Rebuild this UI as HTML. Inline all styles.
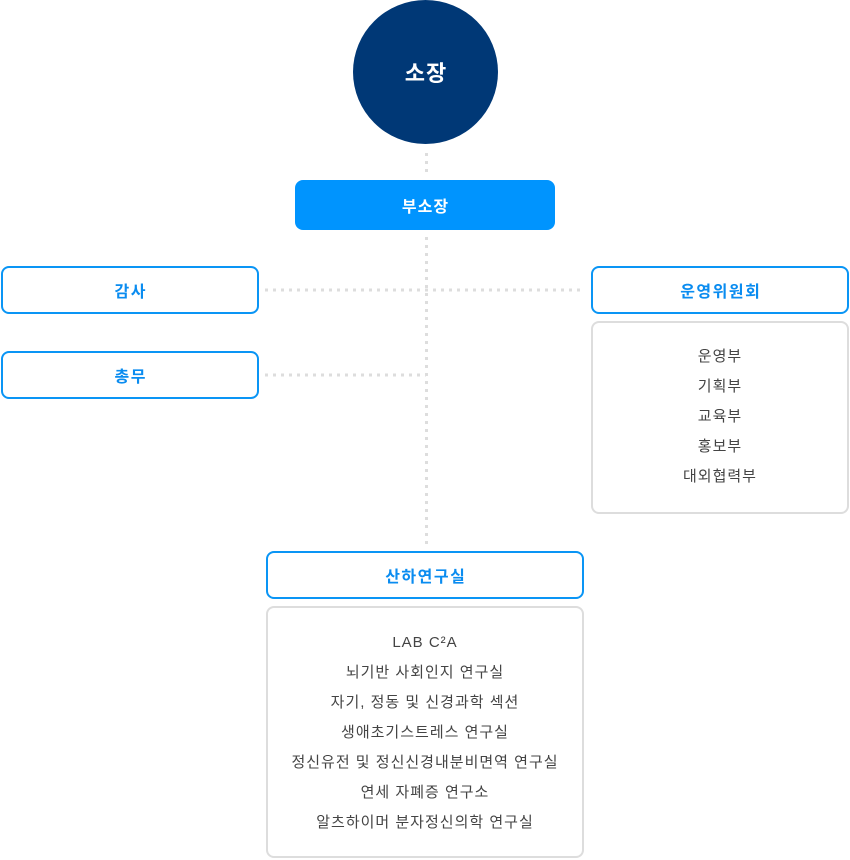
<!DOCTYPE html>
<html><head><meta charset="utf-8"><style>
*{margin:0;padding:0;box-sizing:border-box}
body{width:850px;height:860px;background:#fff;position:relative;overflow:hidden;font-family:"Liberation Sans","Noto Sans CJK KR","NanumGothic",sans-serif}
.a{position:absolute}
.t{border:2px solid #0a95f5;border-radius:8px;color:#0a8cf0;font-size:16px;font-weight:bold;letter-spacing:1.5px;text-indent:1.5px;display:flex;align-items:center;justify-content:center;background:#fff}
.l{border:2px solid #ddd;border-radius:8px;color:#444;font-size:15px;letter-spacing:1px;text-align:center;line-height:30px;background:#fff}
</style></head><body>
<svg class="a" style="left:0;top:0" width="850" height="860">
<g stroke="#ddd" stroke-width="3" stroke-dasharray="3 5">
<line x1="426.5" y1="153" x2="426.5" y2="175"/>
<line x1="426.5" y1="237" x2="426.5" y2="548"/>
<line x1="265" y1="290" x2="582" y2="290"/>
<line x1="265" y1="375" x2="426" y2="375"/>
</g>
</svg>
<div class="a" style="left:353px;top:0;width:145px;height:144px;border-radius:50%;background:#003876;color:#fff;font-size:22px;font-weight:bold;letter-spacing:1px;text-indent:1px;display:flex;align-items:center;justify-content:center">소장</div>
<div class="a" style="left:295px;top:180px;width:260px;height:50px;border-radius:8px;background:#0094fe;color:#fff;font-size:16px;font-weight:bold;letter-spacing:1px;text-indent:1px;display:flex;align-items:center;justify-content:center">부소장</div>
<div class="a t" style="left:1px;top:266px;width:258px;height:48px">감사</div>
<div class="a t" style="left:1px;top:351px;width:258px;height:48px">총무</div>
<div class="a t" style="left:591px;top:266px;width:258px;height:48px">운영위원회</div>
<div class="a l" style="left:591px;top:321px;width:258px;height:193px;padding-top:19px">운영부<br>기획부<br>교육부<br>홍보부<br>대외협력부</div>
<div class="a t" style="left:266px;top:551px;width:318px;height:48px">산하연구실</div>
<div class="a l" style="left:266px;top:606px;width:318px;height:252px;padding-top:20px">LAB C²A<br>뇌기반 사회인지 연구실<br>자기, 정동 및 신경과학 섹션<br>생애초기스트레스 연구실<br>정신유전 및 정신신경내분비면역 연구실<br>연세 자폐증 연구소<br>알츠하이머 분자정신의학 연구실</div>
</body></html>
